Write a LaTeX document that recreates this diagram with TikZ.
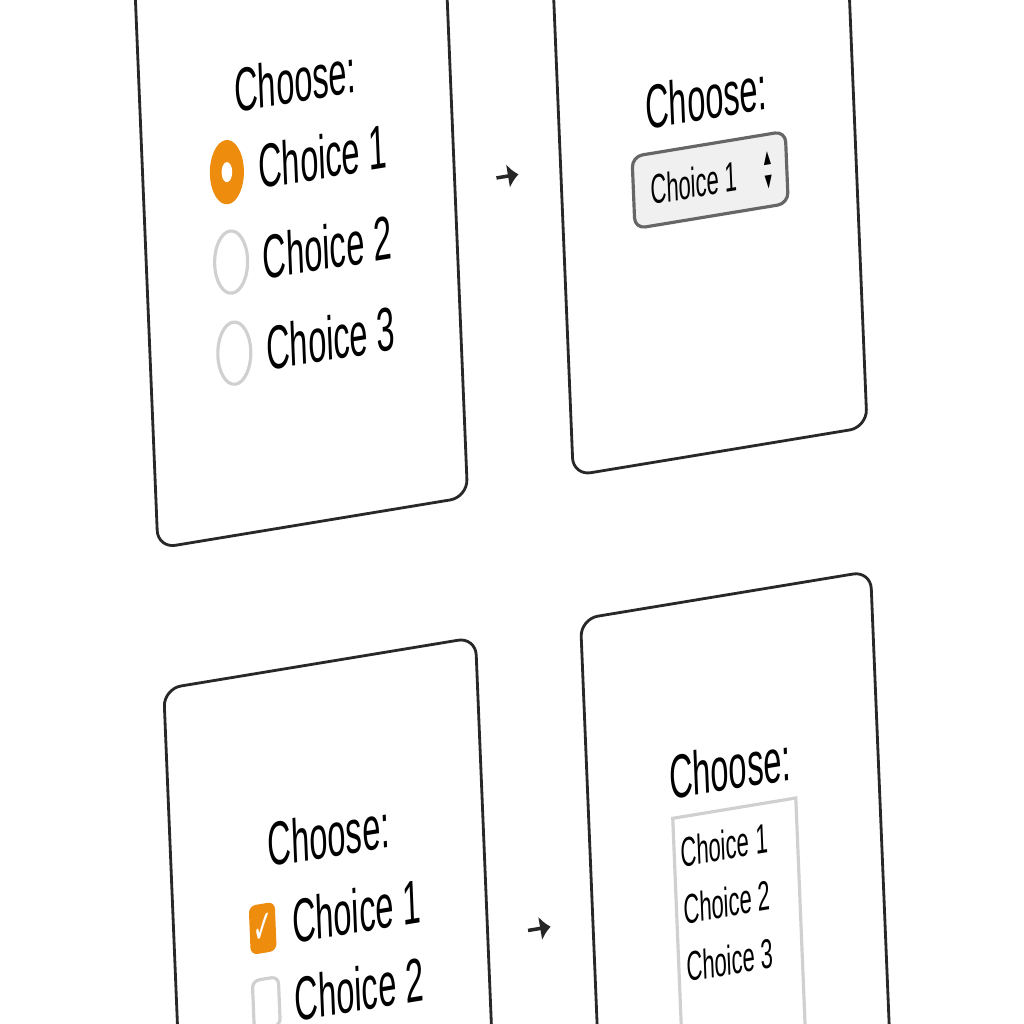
\documentclass[tikz,border=0pt]{standalone}
\usepackage{fontspec}
\setmainfont{Liberation Sans}
\newfontfamily\symfont{DejaVu Sans}
\usetikzlibrary{arrows.meta,positioning}
\definecolor{uiorange}{RGB}{238,140,14}
\definecolor{uigray}{RGB}{208,208,208}
\definecolor{uiline}{RGB}{40,40,40}
\tikzset{
  panel/.style={draw=uiline, line width=0.8pt, rounded corners=5pt, fill=white,
                minimum width=#1, minimum height=6cm, transform shape},
  prompt/.style={font=\fontsize{17.5}{20}\selectfont, inner sep=0pt, transform shape},
  option/.style={font=\fontsize{17.5}{20}\selectfont, inner sep=0pt, anchor=west, transform shape},
  smalloption/.style={font=\fontsize{11.8}{13}\selectfont, inner sep=0pt, anchor=west, transform shape},
  radioon/.style={circle, fill=uiorange, minimum size=0.64cm, inner sep=0pt, transform shape},
  radiodot/.style={circle, fill=white, minimum size=0.2cm, inner sep=0pt, transform shape},
  radiooff/.style={circle, draw=uigray, line width=0.9pt, minimum size=0.62cm, inner sep=0pt, transform shape},
  checkon/.style={rectangle, rounded corners=2pt, fill=uiorange, text=white, minimum size=0.49cm,
                  inner sep=0pt, font=\symfont\fontsize{13}{13}\selectfont, transform shape},
  checkoff/.style={rectangle, rounded corners=2pt, draw=uigray, line width=0.9pt, minimum size=0.49cm,
                   inner sep=0pt, transform shape},
  selectbox/.style={rectangle, rounded corners=3pt, draw=black!60, line width=0.9pt, fill=black!6,
                    minimum width=2.89cm, minimum height=0.72cm, transform shape},
  spinner/.style={font=\symfont\fontsize{5}{7}\selectfont, align=center, inner sep=0pt, transform shape},
  listbox/.style={rectangle, draw=uigray, line width=0.9pt, minimum width=2.32cm,
                  minimum height=3cm, transform shape},
  flow/.style={-{Latex[length=3pt,width=7pt]}, line width=1pt, black!85},
}
\begin{document}
\begin{tikzpicture}[x=0.01cm, y=0.01cm]
\useasboundingbox (0,0) rectangle (1024,1024);
\fill[white] (0,0) rectangle (1024,1024);
\clip (0,0) rectangle (1024,1024);

\begin{scope}[cm={0.53,0.0875,-0.041,1,(158,476)}]

% Panels
\node[panel=5.84cm, minimum height=6.24cm] (radiopanel) at (292,312) {};
\node[panel=5.54cm, minimum height=6.16cm] (selectpanel) at (1061,312) {};
\node[panel=5.88cm] (checkpanel) at (294,-441) {};
\node[panel=5.47cm] (listpanel) at (1060,-440) {};

% Radio buttons
\node[prompt] (radioprompt) at (293,442) {Choose:};
\node[radioon] (radio1) at (158,362) {};
\node[radiodot] (radio1dot) at (radio1) {};
\node[option] (radiotext1) at (217,362) {Choice 1};
\node[radiooff] (radio2) at (159,272) {};
\node[option] (radiotext2) at (218,271) {Choice 2};
\node[radiooff] (radio3) at (158,181) {};
\node[option] (radiotext3) at (218,180) {Choice 3};

% Drop-down
\node[prompt] (selectprompt) at (1062,358) {Choose:};
\node[selectbox] (dropdown) at (1063,275) {};
\node[smalloption] (dropdowntext) at (950,275) {Choice 1};
\node[spinner] (dropdownarrows) at (1172,275) {▲\\▼};

% Checkboxes
\node[prompt] (checkprompt) at (298,-313) {Choose:};
\node[checkon] (check1) at (167,-395) {✓};
\node[option] (checktext1) at (222,-393) {Choice 1};
\node[checkoff] (check2) at (168,-470) {};
\node[option] (checktext2) at (221,-471) {Choice 2};

% List box
\node[prompt] (listprompt) at (1055,-312) {Choose:};
\node[listbox] (choicelist) at (1060,-503) {};
\node[smalloption] (listtext1) at (956,-388) {Choice 1};
\node[smalloption] (listtext2) at (957,-445) {Choice 2};
\node[smalloption] (listtext3) at (958,-503) {Choice 3};

% Arrows between panels
\draw[flow, shorten <=0.414cm, shorten >=0.42cm] (radiopanel) -- (selectpanel);
\draw[flow, shorten <=0.4cm, shorten >=0.42cm] (checkpanel) -- (listpanel);

\end{scope}
\end{tikzpicture}
\end{document}
